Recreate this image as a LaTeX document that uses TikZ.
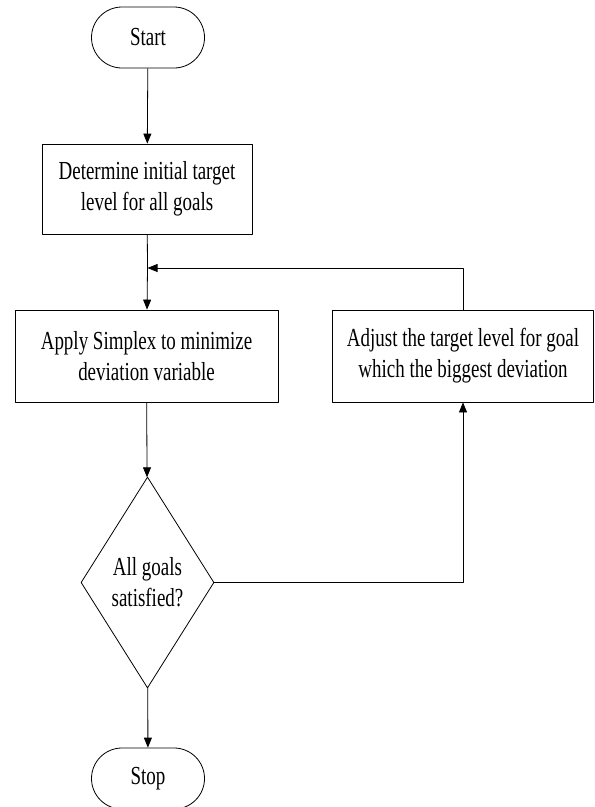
\documentclass[tikz,border=0pt]{standalone}
\usepackage{fontspec}
\setmainfont[FakeStretch=0.73]{Liberation Serif}
\usetikzlibrary{arrows.meta,shapes.geometric,shapes.misc}
\tikzset{
  box/.style={draw,line width=.8pt,rectangle,align=center,inner sep=0pt},
  term/.style={draw,line width=.8pt,rounded rectangle,minimum width=113pt,minimum height=61pt,inner sep=0pt},
  test/.style={draw,line width=.8pt,diamond,align=center,inner sep=0pt,minimum width=133pt,minimum height=211pt},
  arr/.style={line width=.8pt,-{Triangle[length=10pt,width=8pt]}},
  ln/.style={line width=.8pt}
}
\begin{document}
\begin{tikzpicture}[x=1pt,y=-1pt,font=\fontsize{26}{31}\selectfont,line join=round]
	\useasboundingbox (0,0) rectangle (595,807);
	\node[term] (start) at (148,37.5) {Start};
	\node[box,minimum width=210pt,minimum height=90pt] (init) at (147,189) {Determine initial target\\level for all goals};
	\node[box,minimum width=263pt,minimum height=92pt] (simplex) at (146.5,356) {Apply Simplex to minimize\\deviation variable};
	\node[box,minimum width=261pt,minimum height=92pt] (adjust) at (463,356) {Adjust the target level for goal\\which the biggest deviation};
	\node[test] (check) at (147.5,582.5) {All goals\\satisfied?};
	\node[term] (stop) at (148,778.5) {Stop};
	\coordinate (join) at (147.5,268);
	\draw[arr] (start) -- (init);
	\draw[ln] (init) -- (join);
	\draw[arr] (join) -- (simplex);
	\draw[arr] (simplex) -- (check);
	\draw[arr] (check) -- (stop);
	\draw[arr] (check.east) -| (adjust.south);
	\draw[arr] (adjust.north) |- (join);
\end{tikzpicture}
\end{document}
